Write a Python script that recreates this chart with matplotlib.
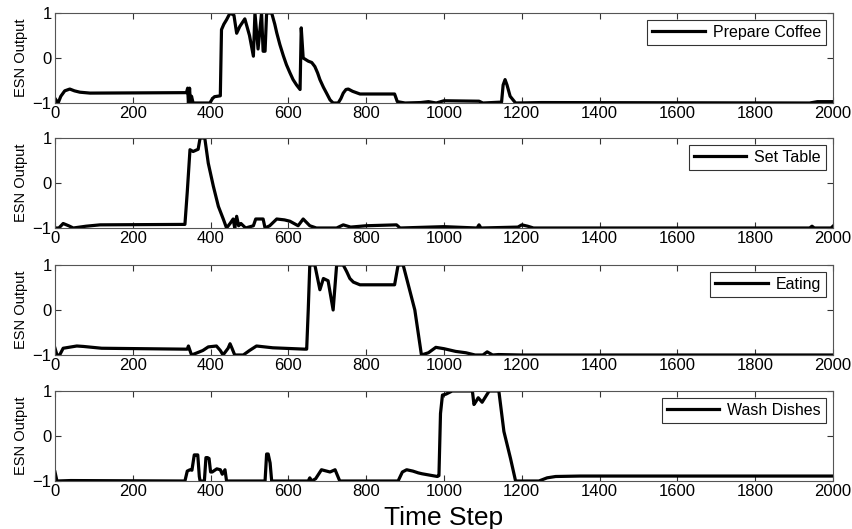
import matplotlib
matplotlib.use("Agg")
import matplotlib.pyplot as plt

plt.rcParams['font.family'] = ['Liberation Sans', 'DejaVu Sans']

labels = ["Prepare Coffee", "Set Table", "Eating", "Wash Dishes"]

coffee_t = [0, 8, 15, 25, 38, 50, 64, 90, 338, 341, 343, 346, 348, 351, 355, 398, 405, 410, 425, 428, 434,
            441, 450, 460, 467, 475, 488, 500, 510, 514, 522, 531, 535, 540, 544, 557, 565, 570, 578, 587,
            595, 604, 612, 621, 630, 633, 638, 651, 660, 668, 675, 681, 690, 698, 707, 715, 728, 735, 741,
            748, 754, 765, 784, 873, 880, 900, 940, 960, 980, 1000, 1090, 1100, 1148, 1152, 1157, 1162, 1170,
            1184, 1250, 1940, 1960, 2000]
coffee_y = [-0.9, -1.0, -0.85, -0.73, -0.69, -0.73, -0.76, -0.78, -0.77, -0.67, -1.0, -0.67, -1.0, -0.85,
            -1.0, -1.0, -0.9, -0.86, -0.84, 0.63, 0.75, 0.85, 1.0, 0.95, 0.55, 0.7, 0.87, 0.5, 0.04, 1.0,
            0.2, 1.0, 0.15, 0.15, 1.0, 1.0, 0.75, 0.56, 0.3, 0.05, -0.15, -0.33, -0.48, -0.6, -0.7, 0.67,
            0.0, -0.07, -0.1, -0.19, -0.33, -0.48, -0.65, -0.78, -0.93, -1.0, -1.0, -0.9, -0.78, -0.7,
            -0.69, -0.74, -0.8, -0.8, -0.97, -1.0, -0.99, -0.97, -1.0, -0.95, -0.96, -1.0, -0.98, -0.6,
            -0.48, -0.6, -0.85, -1.0, -0.99, -1.0, -0.97, -0.97]

table_t = [0, 10, 21, 35, 47, 80, 116, 334, 340, 347, 355, 368, 373, 385, 394, 407, 420, 433, 441, 450, 458,
           462, 467, 472, 478, 490, 510, 516, 522, 535, 540, 552, 570, 590, 604, 625, 638, 655, 672, 724,
           741, 760, 800, 878, 887, 1000, 1085, 1090, 1095, 1190, 1200, 1215, 1230, 1940, 1946, 1952,
           1995, 2000]
table_y = [-1.0, -1.0, -0.9, -0.95, -1.0, -0.96, -0.93, -0.92, -0.2, 0.74, 0.7, 0.75, 1.0, 1.0, 0.44, -0.07,
           -0.52, -0.81, -1.0, -0.9, -0.8, -1.0, -0.74, -0.95, -0.9, -1.0, -0.95, -0.8, -0.8, -0.8, -1.0,
           -0.95, -0.8, -0.82, -0.85, -0.95, -0.8, -0.95, -1.0, -1.0, -0.93, -0.98, -0.95, -0.93, -1.0,
           -0.97, -1.0, -0.93, -1.0, -0.98, -0.93, -0.96, -1.0, -1.0, -0.96, -1.0, -1.0, -0.96]

eat_t = [0, 5, 12, 21, 56, 73, 120, 334, 340, 343, 351, 360, 380, 394, 415, 425, 432, 445, 450, 455, 462,
         484, 500, 518, 560, 642, 647, 651, 655, 668, 681, 690, 702, 715, 724, 741, 750, 758, 767, 784,
         873, 882, 895, 910, 925, 942, 960, 979, 1000, 1030, 1056, 1080, 1100, 1111, 1125, 1140, 1200,
         2000]
eat_y = [-0.85, -1.0, -1.0, -0.85, -0.8, -0.81, -0.85, -0.87, -0.87, -0.8, -1.0, -0.97, -0.9, -0.82, -0.8,
         -0.9, -1.0, -0.85, -0.75, -0.85, -1.0, -1.0, -0.9, -0.8, -0.84, -0.87, -0.87, 0.0, 1.0, 1.0,
         0.45, 0.7, 0.65, 0.0, 1.0, 1.0, 0.85, 0.7, 0.62, 0.56, 0.56, 1.0, 1.0, 0.5, 0.0, -1.0, -0.95,
         -0.83, -0.86, -0.92, -0.95, -1.0, -1.0, -0.93, -1.0, -0.99, -1.0, -1.0]

wash_t = [0, 5, 40, 334, 340, 347, 352, 358, 362, 367, 371, 373, 384, 388, 392, 396, 400, 404, 416, 425, 430,
          437, 441, 540, 544, 548, 553, 557, 651, 655, 660, 670, 685, 707, 720, 732, 882, 893, 904, 920,
          934, 944, 983, 987, 991, 996, 1005, 1021, 1073, 1077, 1081, 1088, 1098, 1116, 1141, 1154, 1171,
          1184, 1244, 1265, 1287, 1350, 2000]
wash_y = [-0.8, -1.0, -0.99, -1.0, -0.78, -0.75, -0.76, -0.42, -0.42, -0.42, -0.9, -1.0, -1.0, -0.48,
          -0.48, -0.5, -0.8, -0.8, -0.73, -0.75, -0.85, -0.75, -1.0, -1.0, -0.4, -0.4, -0.6, -1.0, -1.0,
          -0.93, -1.0, -0.95, -0.75, -0.8, -0.75, -1.0, -1.0, -0.8, -0.75, -0.78, -0.82, -0.84, -0.9,
          -0.88, 0.5, 0.91, 0.93, 1.0, 1.0, 0.7, 0.75, 0.85, 0.75, 1.0, 1.0, 0.1, -0.5, -1.0, -1.0, -0.93,
          -0.9, -0.89, -0.89]

series = [(coffee_t, coffee_y), (table_t, table_y), (eat_t, eat_y), (wash_t, wash_y)]
xticks = [0, 200, 400, 600, 800, 1000, 1200, 1400, 1600, 1800, 2000]
yticks = [-1, 0, 1]

fig = plt.figure(figsize=(8.53, 5.29), dpi=100)
left, width, height = 55 / 853, 778 / 853, 90 / 529
tops = [13, 138, 265, 391]

for i, ((t, y), lab) in enumerate(zip(series, labels)):
    bottom = 1 - (tops[i] + 90) / 529
    ax = fig.add_axes([left, bottom, width, height])
    ax.plot(t, y, color='black', linewidth=2.3, label=lab, solid_joinstyle='round')
    ax.set_xlim(0, 2000)
    ax.set_ylim(-1, 1)
    ax.set_xticks(xticks)
    ax.set_yticks(yticks)
    ax.tick_params(direction='in', top=True, right=True, labelsize=12, length=4,
                   color='#333333', pad=2.5)
    for sp in ax.spines.values():
        sp.set_color('#555555')
        sp.set_linewidth(0.8)
    ax.set_ylabel("ESN Output", fontsize=10.5, labelpad=3)
    leg = ax.legend(loc='upper right', fontsize=11.5, frameon=True, fancybox=False,
                    handlelength=3.3, borderpad=0.3, handletextpad=0.5,
                    borderaxespad=0.45)
    leg.get_frame().set_edgecolor('black')
    leg.get_frame().set_linewidth(0.8)
    if i == 3:
        ax.set_xlabel("Time Step", fontsize=19, labelpad=5)

fig.savefig("out.png", dpi=100)
